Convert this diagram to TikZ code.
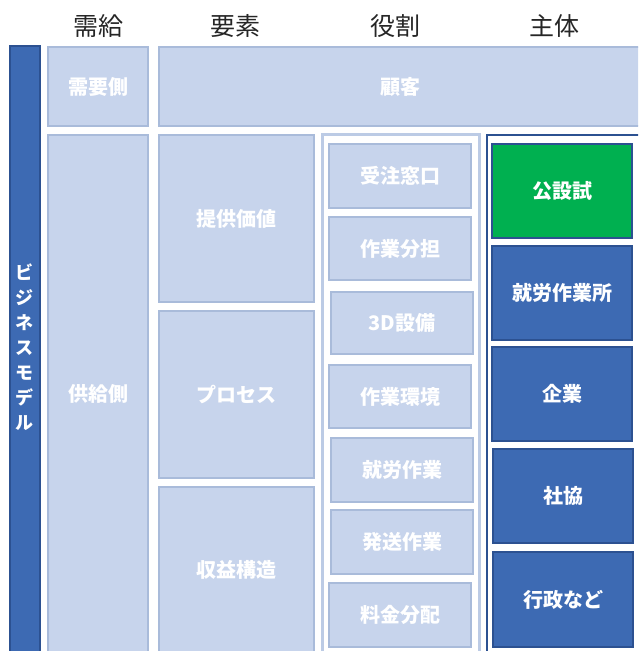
\documentclass[tikz,border=0pt]{standalone}
\usepackage{fontspec}
\setmainfont{Noto Sans CJK JP}
\usetikzlibrary{fit}
\definecolor{lfill}{HTML}{C7D4EC}
\definecolor{lbord}{HTML}{A9BBDA}
\definecolor{frame}{HTML}{BCCBE5}
\definecolor{dfill}{HTML}{3D6AB3}
\definecolor{dbord}{HTML}{2C5191}
\definecolor{gfill}{HTML}{00B050}
\definecolor{hdrc}{HTML}{262626}
\newcommand\mybox[7][lbox]{%
  \node[#1, fit={(#3,#4)(#5,#6)}] (#2) {};
  \node[txt] (#2t) at (#2.center) {#7};}
\begin{document}
\begin{tikzpicture}[x=1pt,y=-1pt,
  base/.style={line width=1.5pt, inner sep=0pt},
  txt/.style={inner sep=0pt, text=white, font=\fontsize{20}{24}\selectfont\bfseries},
  lbox/.style={base, draw=lbord, fill=lfill},
  dbox/.style={base, draw=dbord, fill=dfill},
  gbox/.style={base, draw=dbord, fill=gfill},
  hdr/.style={text=hdrc, font=\fontsize{25}{30}\selectfont},
  rframe/.style={draw=frame, line width=3pt, fill=white, inner sep=0pt},
  sframe/.style={draw=dbord, line width=2pt, fill=white, inner sep=0pt}]
\useasboundingbox (0,0) rectangle (638,651);
\clip (0,0) rectangle (638,651);
\fill[white] (0,0) rectangle (638,651);

% headers
\node[hdr] (h1) at (98,26) {需給};
\node[hdr] (h2) at (235,26) {要素};
\node[hdr] (h3) at (395,26) {役割};
\node[hdr] (h4) at (554,26) {主体};

% vertical bar
\node[dbox, fit={(10,46)(40,660)}] (bm) {};
\node[text=white, align=center, font=\fontsize{18}{25}\selectfont\bfseries] (bmt) at (25,347) {ビ\\ジ\\ネ\\ス\\モ\\デ\\ル};

% demand / supply
\mybox{juyo}{48}{47}{148}{126}{需要側}
\node[lbox, fit={(159,47)(642,126)}] (kokyaku) {};
\node[txt] (kokyakut) at (400,87) {顧客};
\node[lbox, fit={(48,135)(148,655)}] (kyokyu) {};
\node[txt] (kyokyut) at (98,394) {供給側};

% elements
\mybox{teikyo}{159}{135}{314}{302}{提供価値}
\mybox{process}{159}{311}{314}{478}{プロセス}
\node[lbox, fit={(159,487)(314,655)}] (shueki) {};
\node[txt] (shuekit) at (236,570) {収益構造};

% role frame
\node[rframe, fit={(322,134)(479,658)}] (rolef) {};
\mybox{r1}{329}{144}{471}{208}{受注窓口}
\mybox{r2}{329}{217}{471}{280}{作業分担}
\mybox{r3}{331}{292}{473}{354}{3D設備}
\mybox{r4}{329}{365}{471}{428}{作業環境}
\mybox{r5}{331}{438}{473}{502}{就労作業}
\mybox{r6}{331}{510}{473}{574}{発送作業}
\mybox{r7}{329}{583}{471}{647}{料金分配}

% subject frame
\node[sframe, fit={(487,135)(650,658)}] (subjf) {};
\mybox[gbox]{s1}{492}{144}{632}{238}{公設試}
\mybox[dbox]{s2}{492}{246}{632}{340}{就労作業所}
\mybox[dbox]{s3}{492}{347}{632}{441}{企業}
\mybox[dbox]{s4}{493}{449}{633}{543}{社協}
\mybox[dbox]{s5}{493}{552}{633}{647}{行政など}
\end{tikzpicture}
\end{document}
